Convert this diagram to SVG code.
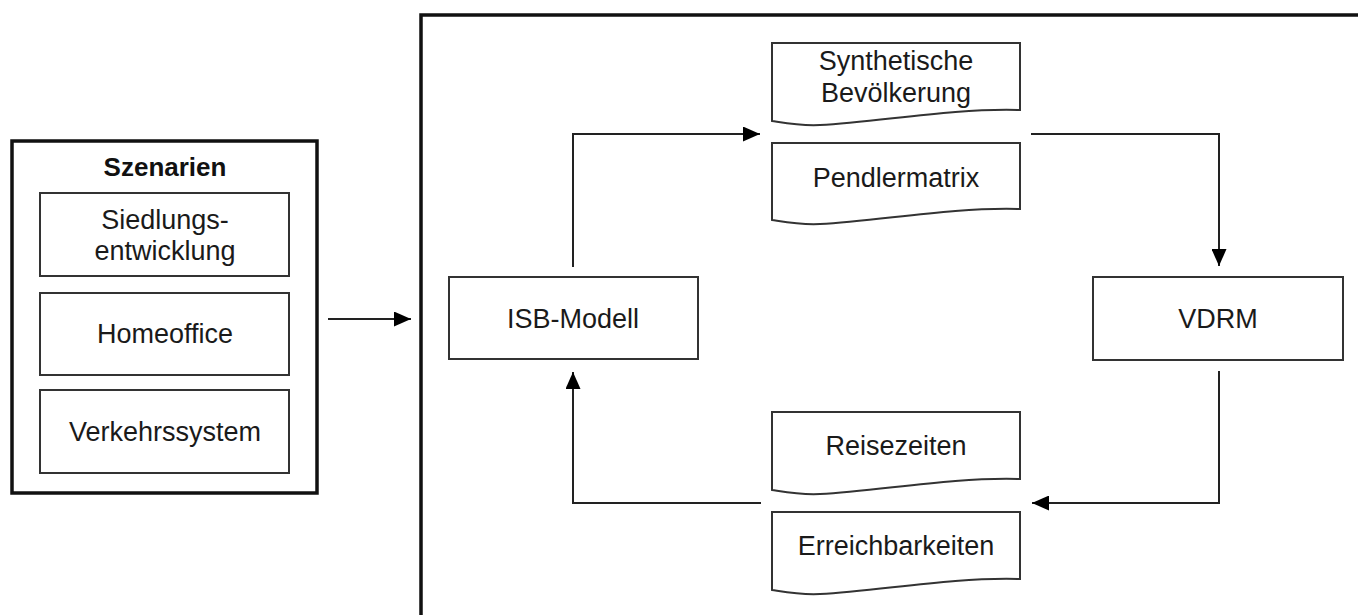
<svg xmlns="http://www.w3.org/2000/svg" width="1358" height="615" viewBox="0 0 1358 615">
<style>
.t{font-family:"Liberation Sans",Arial,sans-serif;font-size:27px;fill:#1a1a1a;text-anchor:middle}
.b{font-weight:bold;fill:#111;font-size:26px}
.box{fill:#fff;stroke:#333;stroke-width:2}
.outer{fill:none;stroke:#111;stroke-width:3.5}
.con{fill:none;stroke:#222;stroke-width:2}
</style>
<defs>
<marker id="ah" markerWidth="17" markerHeight="15" refX="17" refY="7.5" orient="auto" markerUnits="userSpaceOnUse">
<path d="M0,0 L17,7.5 L0,15 Z" fill="#000"/>
</marker>
</defs>
<rect width="1358" height="615" fill="#fff"/>
<g id="system">
<rect class="outer" x="421" y="15" width="960" height="620"/>
</g>
<g id="szenarien">
<rect class="outer" x="12" y="141" width="305" height="352"/>
<text class="t b" x="165" y="176">Szenarien</text>
</g>
<g id="siedlung">
<rect class="box" x="40" y="193" width="249" height="83"/>
<text class="t" x="165" y="229">Siedlungs-</text>
<text class="t" x="165" y="260">entwicklung</text>
</g>
<g id="homeoffice">
<rect class="box" x="40" y="293" width="249" height="82"/>
<text class="t" x="165" y="343">Homeoffice</text>
</g>
<g id="verkehrssystem">
<rect class="box" x="40" y="390" width="249" height="83"/>
<text class="t" x="165" y="441">Verkehrssystem</text>
</g>
<g id="isb">
<rect class="box" x="449" y="277" width="249" height="82"/>
<text class="t" x="573" y="328">ISB-Modell</text>
</g>
<g id="vdrm">
<rect class="box" x="1093" y="277" width="250" height="83"/>
<text class="t" x="1218" y="328">VDRM</text>
</g>
<g id="synth">
<path class="box" d="M772,43 H1020 V110 C950,108 880,122 820,125 C800,126 785,123 772,121 Z"/>
<text class="t" x="896" y="70">Synthetische</text>
<text class="t" x="896" y="102">Bevölkerung</text>
</g>
<g id="pendler">
<path class="box" d="M772,143 H1020 V209 C950,207 880,221 820,224 C800,225 785,222 772,220 Z"/>
<text class="t" x="896" y="187">Pendlermatrix</text>
</g>
<g id="reisezeiten">
<path class="box" d="M772,412 H1020 V479 C950,477 880,491 820,494 C800,495 785,492 772,490 Z"/>
<text class="t" x="896" y="455">Reisezeiten</text>
</g>
<g id="erreichbarkeiten">
<path class="box" d="M772,512 H1020 V579 C950,577 880,591 820,594 C800,595 785,592 772,590 Z"/>
<text class="t" x="896" y="555">Erreichbarkeiten</text>
</g>
<g id="connectors">
<path class="con" d="M328,319 H411" marker-end="url(#ah)" stroke-width="3"/>
<path class="con" d="M573,267 V134 H760" marker-end="url(#ah)"/>
<path class="con" d="M1031,134 H1219 V266" marker-end="url(#ah)"/>
<path class="con" d="M1219,371 V503 H1032" marker-end="url(#ah)"/>
<path class="con" d="M761,503 H573 V372" marker-end="url(#ah)"/>
</g>
</svg>
